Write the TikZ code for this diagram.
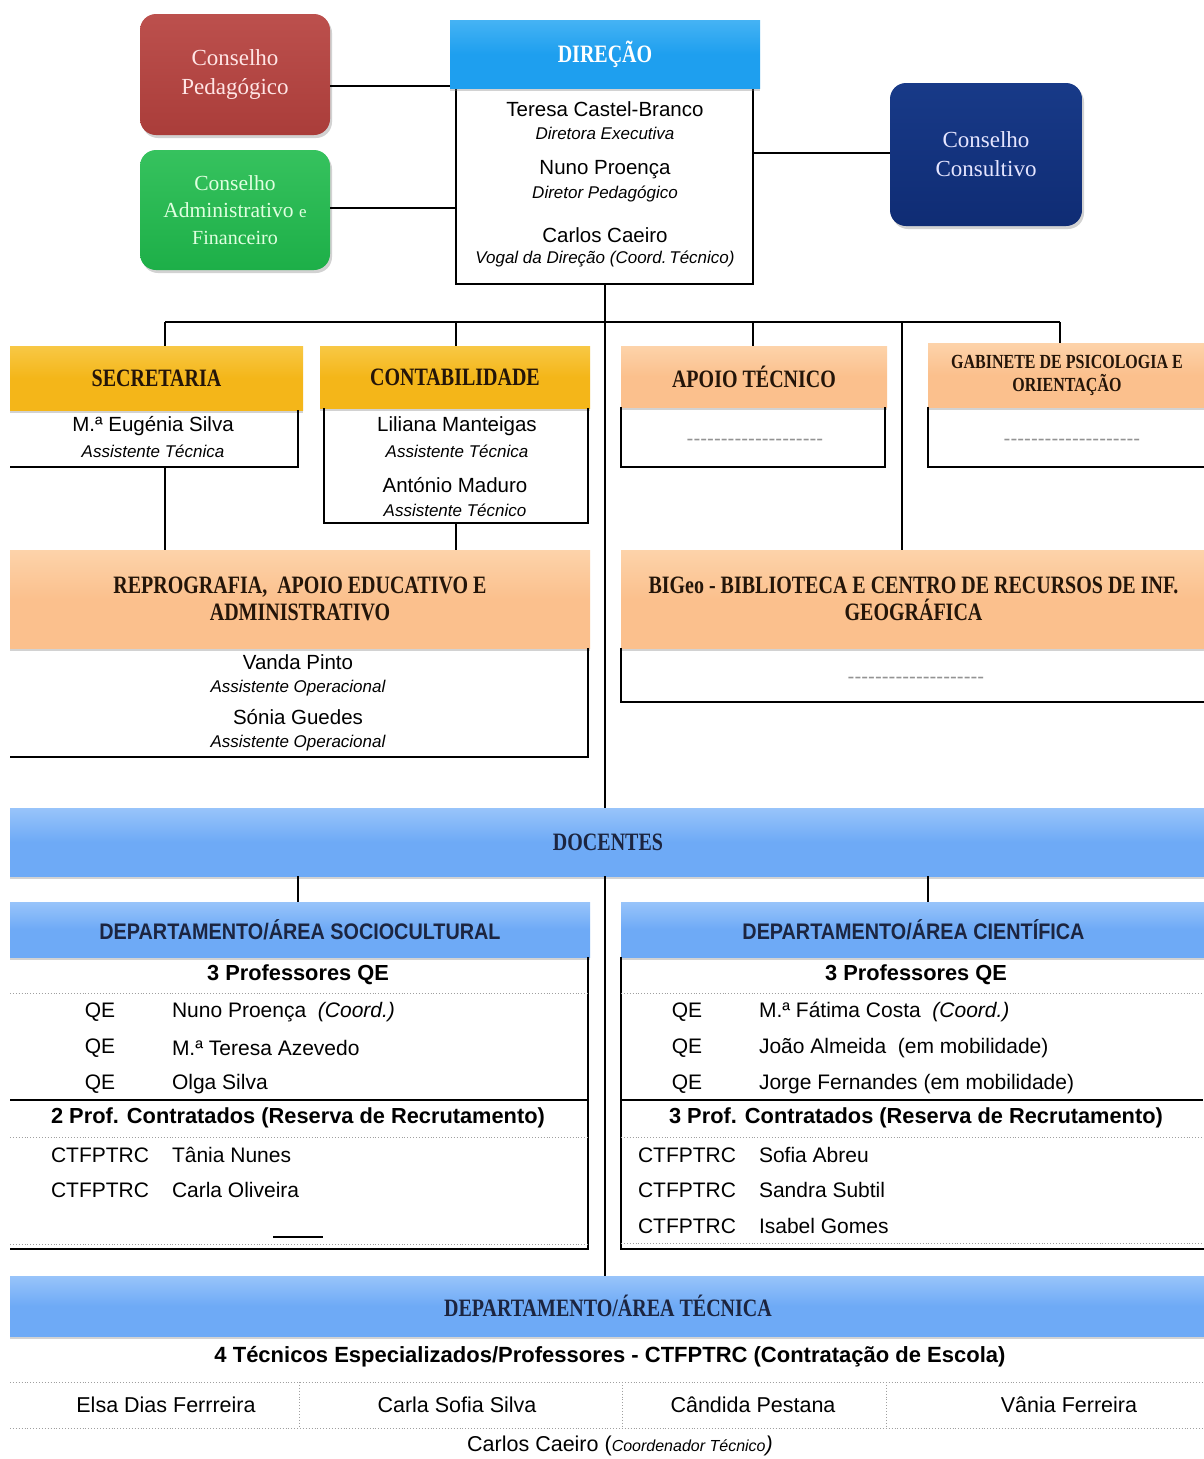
\documentclass[tikz,border=0pt]{standalone}
\usepackage{fontspec}
\setmainfont{Liberation Sans}
\newfontfamily\hdrfont[FakeStretch=0.8]{Liberation Serif}
\newfontfamily\serifc{Liberation Serif}
\newfontfamily\depfont[FakeStretch=0.88]{Liberation Sans}
\usetikzlibrary{shadows}
\definecolor{dirblue}{HTML}{1E9FEF}
\definecolor{dirbluetop}{HTML}{45B3F4}
\definecolor{goldc}{HTML}{F4B619}
\definecolor{goldtop}{HTML}{F8C845}
\definecolor{lorange}{HTML}{FBC08D}
\definecolor{lorangetop}{HTML}{FDD3AA}
\definecolor{lblue}{HTML}{6EAAF6}
\definecolor{lbluetop}{HTML}{98C4FA}
\definecolor{pedred}{HTML}{AA3D3A}
\definecolor{pedredtop}{HTML}{BC504D}
\definecolor{admgreen}{HTML}{1DAF48}
\definecolor{admgreentop}{HTML}{36C25E}
\definecolor{navyc}{HTML}{0F2C74}
\definecolor{navytop}{HTML}{183A88}
\definecolor{hdrtext}{HTML}{241509}
\definecolor{bluetext}{HTML}{1C2540}
\newcommand\nmA[1]{{\fontsize{20.5}{22}\selectfont #1}}
\newcommand\rlA[1]{{\fontsize{17}{19}\selectfont\itshape #1}}
\newcommand\nmB[1]{{\fontsize{21}{23}\selectfont #1}}
\newcommand\bdB[1]{{\fontsize{21.8}{23}\selectfont\bfseries #1}}
\def\dsh{-\kern0pt}
\newcommand\dashA{{\color{gray!85}\fontsize{20.5}{22}\selectfont\dsh\dsh\dsh\dsh\dsh\dsh\dsh\dsh\dsh\dsh\dsh\dsh\dsh\dsh\dsh\dsh\dsh\dsh\dsh\dsh}}
\tikzset{
  txt/.style={inner sep=0pt, outer sep=0pt, align=center},
  hdrf/.style={font=\hdrfont\bfseries\fontsize{25}{27}\selectfont},
  depf/.style={font=\depfont\bfseries\fontsize{22.5}{24}\selectfont},
  hdr/.style={inner sep=0pt, outer sep=0pt, align=center,
    drop shadow={shadow xshift=0pt, shadow yshift=-3pt, opacity=.35}},
  goldbox/.style={hdr, hdrf, top color=goldtop, bottom color=goldc, middle color=goldc, text=hdrtext},
  orangebox/.style={hdr, hdrf, top color=lorangetop, bottom color=lorange, middle color=lorange, text=hdrtext},
  bluebar/.style={hdr, hdrf, top color=lbluetop, bottom color=lblue, middle color=lblue, text=bluetext},
  council/.style={inner sep=0pt, outer sep=0pt, align=center, rounded corners=16pt,
    drop shadow={shadow xshift=2pt, shadow yshift=-3pt, opacity=.35}},
  plain/.style={inner sep=0pt, outer sep=0pt},
  conn/.style={line width=2pt, black},
  bline/.style={line width=2pt, black},
  dotl/.style={line width=0.9pt, gray!75, dotted}
}
\begin{document}
\begin{tikzpicture}[x=1pt, y=-1pt]
\useasboundingbox (0,0) rectangle (1203,1459);
\fill[white] (0,0) rectangle (1203,1459);

% ---------- councils ----------
\node[council, top color=pedredtop, bottom color=pedred, minimum width=190pt, minimum height=121pt,
  text=white!90!red, font=\serifc\fontsize{23}{29}\selectfont] (cp) at (235,74.5) {Conselho\\Pedagógico};
\node[council, top color=admgreentop, bottom color=admgreen, minimum width=190pt, minimum height=120pt,
  text=white!88!green, font=\serifc\fontsize{21.5}{27}\selectfont] (ca) at (235,210) {Conselho\\Administrativo \fontsize{17}{27}\selectfont e\\\fontsize{20}{27}\selectfont Financeiro};
\node[council, top color=navytop, bottom color=navyc, minimum width=192pt, minimum height=143pt,
  text=white!90!blue, font=\serifc\fontsize{23}{29}\selectfont] (cc) at (986,154.5) {Conselho\\Consultivo};

% ---------- direção ----------
\node[plain, draw, line width=2pt, minimum width=297pt, minimum height=196pt] (dirb) at (604.5,186) {};
\node[hdr, hdrf, top color=dirbluetop, bottom color=dirblue, middle color=dirblue, minimum width=310pt, minimum height=68pt, text=white] (dirh) at (605,54) {DIREÇÃO};
\node[txt] (d1) at (605,109) {\nmA{Teresa Castel-Branco}};
\node[txt] (d2) at (605,133) {\rlA{Diretora Executiva}};
\node[txt] (d3) at (605,170) {\nmA{Nuno Proença}};
\node[txt] (d4) at (605,194) {\rlA{Diretor Pedagógico}};
\node[txt] (d5) at (605,235) {\nmA{Carlos Caeiro}};
\node[txt] (d6) at (605,259) {\rlA{Vogal da Direção (Coord.\,Técnico)}};

\draw[conn] (cp.east |- 0,86) -- (dirh.west |- 0,86);
\draw[conn] (ca.east |- 0,208) -- (dirb.west |- 0,208);
\draw[conn] (dirb.east |- 0,153) -- (cc.west |- 0,153);

% ---------- bus ----------
\coordinate (b1) at (165,322);
\coordinate (b2) at (456,322);
\coordinate (b3) at (753,322);
\coordinate (b4) at (1060,322);
\coordinate (b5) at (902,322);

% ---------- secretaria ----------
\node[goldbox, minimum width=293pt, minimum height=64pt] (sech) at (156.5,378) {SECRETARIA};
\node[plain, minimum width=288pt, minimum height=57pt] (secb) at (154,438.5) {};
\draw[bline] (secb.north east) -- (secb.south east) -- (secb.south west);
\node[txt] (s1) at (153,426) {\nmA{M.ª Eugénia Silva}};
\node[txt] (s2) at (153,451) {\rlA{Assistente Técnica}};

% ---------- contabilidade ----------
\node[goldbox, minimum width=270pt, minimum height=62pt] (conh) at (455,377) {CONTABILIDADE};
\node[plain, minimum width=264pt, minimum height=115pt] (conb) at (456,465.5) {};
\draw[bline] (conb.north west) -- (conb.south west) -- (conb.south east) -- (conb.north east);
\node[txt] (c1) at (457,426) {\nmA{Liliana Manteigas}};
\node[txt] (c2) at (457,451) {\rlA{Assistente Técnica}};
\node[txt] (c3) at (455,485) {\nmA{António Maduro}};
\node[txt] (c4) at (455,510) {\rlA{Assistente Técnico}};

% ---------- apoio técnico ----------
\node[orangebox, minimum width=266pt, minimum height=61pt] (apoh) at (754,376.5) {APOIO TÉCNICO};
\node[plain, minimum width=264pt, minimum height=60pt] (apob) at (753,437) {};
\draw[bline] (apob.north west) -- (apob.south west) -- (apob.south east) -- (apob.north east);
\node[txt] (a1) at (755,442) {\dashA};

% ---------- gabinete ----------
\node[orangebox, font=\hdrfont\bfseries\fontsize{20}{23}\selectfont, minimum width=278pt, minimum height=64pt] (gabh) at (1067,375) {GABINETE DE PSICOLOGIA E\\ORIENTAÇÃO};
\node[plain, minimum width=278pt, minimum height=60pt] (gabb) at (1067,437) {};
\draw[bline] (gabb.north west) -- (gabb.south west) -- (gabb.south east);
\node[txt] (g1) at (1072,442) {\dashA};

% ---------- reprografia ----------
\node[orangebox, minimum width=580pt, minimum height=98pt] (reph) at (300,599) {REPROGRAFIA,\ \ APOIO EDUCATIVO E\\ADMINISTRATIVO};
\node[plain, minimum width=578pt, minimum height=109pt] (repb) at (299,702.5) {};
\draw[bline] (repb.north east) -- (repb.south east) -- (repb.south west);
\node[txt] (r1) at (298,662) {\nmA{Vanda Pinto}};
\node[txt] (r2) at (298,688) {\rlA{Assistente Operacional}};
\node[txt] (r3) at (298,717) {\nmA{Sónia Guedes}};
\node[txt] (r4) at (298,743) {\rlA{Assistente Operacional}};

% ---------- BIGeo ----------
\node[orangebox, minimum width=585pt, minimum height=98pt] (bigh) at (913.5,599) {BIGeo - BIBLIOTECA E CENTRO DE RECURSOS DE INF.\\GEOGRÁFICA};
\node[plain, minimum width=585pt, minimum height=54pt] (bigb) at (913.5,675) {};
\draw[bline] (bigb.north west) -- (bigb.south west) -- (bigb.south east);
\node[txt] (bg1) at (916,680) {\dashA};

% ---------- docentes ----------
\node[bluebar, minimum width=1196pt, minimum height=68pt] (docb) at (608,842) {DOCENTES};

\node[bluebar, depf, minimum width=580pt, minimum height=55pt] (soch) at (300,929.5) {DEPARTAMENTO/ÁREA SOCIOCULTURAL};
\node[plain, minimum width=578pt, minimum height=292pt] (socb) at (299,1103) {};
\draw[bline] (socb.north east) -- (socb.south east) -- (socb.south west);

\node[bluebar, depf, minimum width=585pt, minimum height=55pt] (scih) at (913.5,929.5) {DEPARTAMENTO/ÁREA CIENTÍFICA};
\node[plain, minimum width=585pt, minimum height=292pt] (scib) at (913.5,1103) {};
\draw[bline] (scib.north west) -- (scib.south west) -- (scib.south east);

\node[bluebar, minimum width=1196pt, minimum height=60pt] (tech) at (608,1306) {DEPARTAMENTO/ÁREA TÉCNICA};

% ---------- connectors ----------
\draw[conn] (b1) -- (b4);
\draw[conn] (dirb.south) -- (dirb.south |- docb.north);
\draw[conn] (dirb.south |- docb.south) -- (dirb.south |- tech.north);
\draw[conn] (b1) -- (b1 |- sech.north);
\draw[conn] (b2) -- (b2 |- conh.north);
\draw[conn] (b3) -- (b3 |- apoh.north);
\draw[conn] (b4) -- (b4 |- gabh.north);
\draw[conn] (b5) -- (b5 |- bigh.north);
\draw[conn] (secb.south -| b1) -- (reph.north -| b1);
\draw[conn] (conb.south -| b2) -- (reph.north -| b2);
\draw[conn] (docb.south -| 298,0) -- (soch.north -| 298,0);
\draw[conn] (docb.south -| 928,0) -- (scih.north -| 928,0);

% ---------- sociocultural content ----------
\node[txt] (so1) at (298,975) {\bdB{3 Professores QE}};
\draw[dotl] (10,993) -- (588,993);
\node[txt] (so2) at (100,1012) {\nmB{QE}};
\node[txt, anchor=west] (so3) at (172,1012) {\nmB{Nuno Proença\ \ \textit{(Coord.)}}};
\node[txt] (so4) at (100,1048) {\nmB{QE}};
\node[txt, anchor=west] (so5) at (172,1048) {\nmB{M.ª Teresa Azevedo}};
\node[txt] (so6) at (100,1084) {\nmB{QE}};
\node[txt, anchor=west] (so7) at (172,1084) {\nmB{Olga Silva}};
\draw[bline] (10,1100) -- (588,1100);
\node[txt] (so8) at (298,1118) {\bdB{2 Prof. Contratados (Reserva de Recrutamento)}};
\draw[dotl] (10,1137) -- (588,1137);
\node[txt] (so9) at (100,1155) {\nmB{CTFPTRC}};
\node[txt, anchor=west] (so10) at (172,1155) {\nmB{Tânia Nunes}};
\node[txt] (so11) at (100,1190) {\nmB{CTFPTRC}};
\node[txt, anchor=west] (so12) at (172,1190) {\nmB{Carla Oliveira}};
\draw[bline] (273,1237) -- (323,1237);
\draw[dotl] (10,1244) -- (588,1244);

% ---------- científica content ----------
\node[txt] (sc1) at (916,975) {\bdB{3 Professores QE}};
\draw[dotl] (621,993) -- (1203,993);
\node[txt] (sc2) at (687,1012) {\nmB{QE}};
\node[txt, anchor=west] (sc3) at (759,1012) {\nmB{M.ª Fátima Costa\ \ \textit{(Coord.)}}};
\node[txt] (sc4) at (687,1048) {\nmB{QE}};
\node[txt, anchor=west] (sc5) at (759,1048) {\nmB{João Almeida\ \ (em mobilidade)}};
\node[txt] (sc6) at (687,1084) {\nmB{QE}};
\node[txt, anchor=west] (sc7) at (759,1084) {\nmB{Jorge Fernandes (em mobilidade)}};
\draw[bline] (621,1100) -- (1203,1100);
\node[txt] (sc8) at (916,1118) {\bdB{3 Prof. Contratados (Reserva de Recrutamento)}};
\draw[dotl] (621,1137) -- (1203,1137);
\node[txt] (sc9) at (687,1155) {\nmB{CTFPTRC}};
\node[txt, anchor=west] (sc10) at (759,1155) {\nmB{Sofia Abreu}};
\node[txt] (sc11) at (687,1190) {\nmB{CTFPTRC}};
\node[txt, anchor=west] (sc12) at (759,1190) {\nmB{Sandra Subtil}};
\node[txt] (sc13) at (687,1226) {\nmB{CTFPTRC}};
\node[txt, anchor=west] (sc14) at (759,1226) {\nmB{Isabel Gomes}};
\draw[dotl] (621,1243) -- (1203,1243);

% ---------- técnica content ----------
\node[txt] (t1) at (610,1357) {{\fontsize{22}{24}\selectfont\bfseries 4 Técnicos Especializados/Professores - CTFPTRC (Contratação de Escola)}};
\draw[dotl] (10,1382) -- (1203,1382);
\draw[dotl] (299,1382) -- (299,1428);
\draw[dotl] (622,1382) -- (622,1428);
\draw[dotl] (886,1382) -- (886,1428);
\draw[dotl] (10,1428) -- (1203,1428);
\node[txt] (t2) at (166,1405) {{\fontsize{21.5}{23}\selectfont Elsa Dias Ferrreira}};
\node[txt] (t3) at (457,1405) {{\fontsize{21.5}{23}\selectfont Carla Sofia Silva}};
\node[txt] (t4) at (753,1405) {{\fontsize{21.5}{23}\selectfont Cândida Pestana}};
\node[txt] (t5) at (1069,1405) {{\fontsize{21.5}{23}\selectfont Vânia Ferreira}};
\node[txt] (t6) at (620,1446) {{\fontsize{21.5}{23}\selectfont Carlos Caeiro (}{\fontsize{16}{18}\selectfont\itshape Coordenador Técnico}{\fontsize{21.5}{23}\selectfont\itshape )}};
\end{tikzpicture}
\end{document}
